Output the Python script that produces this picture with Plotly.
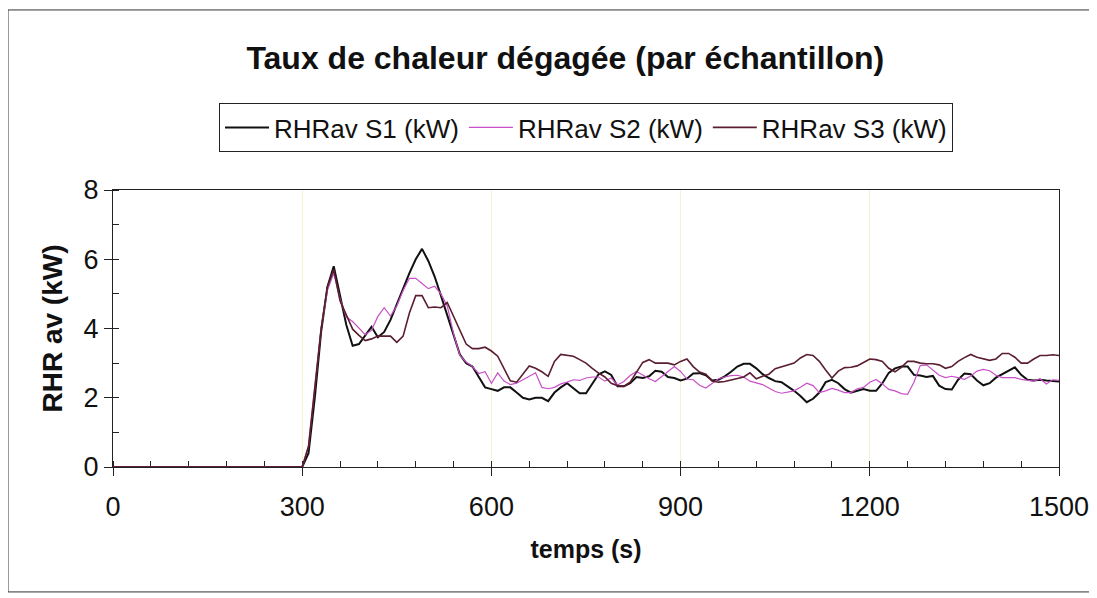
import plotly.graph_objects as go

# temps (s) : 0 puis pas de 10 s de 300 à 1500
temps = [0] + list(range(300, 1501, 10))

rhr_s1 = [0,
    0, 0.4, 2.0, 3.9, 5.2, 5.8, 4.9, 4.1, 3.5, 3.55,
    3.8, 4.05, 3.75, 3.9, 4.25, 4.7, 5.2, 5.6, 6.0, 6.3,
    5.95, 5.5, 4.95, 4.4, 3.8, 3.25, 3.0, 2.9, 2.6, 2.3,
    2.25, 2.2, 2.3, 2.3, 2.15, 2.0, 1.95, 2.0, 2.0, 1.9,
    2.15, 2.3, 2.42, 2.28, 2.13, 2.13, 2.4, 2.68, 2.76, 2.66,
    2.33, 2.33, 2.42, 2.6, 2.57, 2.62, 2.78, 2.75, 2.6, 2.57,
    2.5, 2.55, 2.7, 2.71, 2.65, 2.5, 2.52, 2.62, 2.75, 2.9,
    2.98, 2.98, 2.85, 2.68, 2.57, 2.48, 2.45, 2.33, 2.2, 2.05,
    1.87, 1.97, 2.15, 2.45, 2.52, 2.42, 2.25, 2.15, 2.2, 2.25,
    2.2, 2.2, 2.42, 2.72, 2.85, 2.9, 2.9, 2.66, 2.64, 2.6,
    2.63, 2.35, 2.25, 2.24, 2.52, 2.7, 2.68, 2.5, 2.36, 2.42,
    2.58, 2.68, 2.78, 2.88, 2.66, 2.52, 2.5, 2.52, 2.5, 2.48,
    2.47]

rhr_s2 = [0,
    0, 0.6, 2.3, 4.0, 5.1, 5.6, 4.85, 4.33, 4.2, 4.0,
    3.82, 3.95, 4.35, 4.6, 4.36, 4.65, 5.1, 5.45, 5.45, 5.3,
    5.15, 5.22, 5.0, 4.65, 3.85, 3.22, 3.03, 2.9, 2.7, 2.75,
    2.42, 2.72, 2.48, 2.38, 2.42, 2.52, 2.62, 2.72, 2.3, 2.26,
    2.3, 2.4, 2.45, 2.52, 2.5, 2.57, 2.6, 2.6, 2.48, 2.57,
    2.37, 2.47, 2.64, 2.76, 2.66, 2.55, 2.47, 2.62, 2.76, 2.9,
    2.76, 2.54, 2.52, 2.36, 2.28, 2.42, 2.55, 2.6, 2.64, 2.65,
    2.6, 2.48, 2.42, 2.38, 2.28, 2.18, 2.13, 2.16, 2.2, 2.3,
    2.42, 2.35, 2.15, 2.2, 2.27, 2.22, 2.15, 2.15, 2.26, 2.3,
    2.45, 2.53, 2.4, 2.24, 2.2, 2.12, 2.1, 2.45, 2.93, 2.95,
    2.8, 2.65, 2.58, 2.62, 2.58, 2.53, 2.63, 2.77, 2.82, 2.78,
    2.65, 2.58, 2.58, 2.58, 2.53, 2.5, 2.48, 2.55, 2.4, 2.52,
    2.5]

rhr_s3 = [0,
    0, 0.6, 2.3, 4.0, 5.2, 5.7, 4.8, 4.4, 3.98, 3.8,
    3.65, 3.7, 3.78, 3.78, 3.78, 3.6, 3.78, 4.45, 4.95, 4.95,
    4.6, 4.62, 4.6, 4.75, 4.35, 3.95, 3.55, 3.42, 3.42, 3.46,
    3.35, 3.2, 2.85, 2.49, 2.45, 2.7, 2.92, 2.85, 2.75, 2.62,
    3.05, 3.25, 3.22, 3.2, 3.1, 3.0, 2.85, 2.71, 2.6, 2.42,
    2.35, 2.33, 2.45, 2.75, 3.02, 3.1, 3.0, 3.0, 3.0, 2.95,
    3.05, 3.12, 2.9, 2.74, 2.68, 2.48, 2.45, 2.47, 2.52, 2.57,
    2.6, 2.72, 2.55, 2.62, 2.68, 2.84, 2.9, 2.95, 3.0, 3.15,
    3.25, 3.22, 3.05, 2.8, 2.57, 2.77, 2.87, 2.88, 2.92, 3.02,
    3.12, 3.1, 3.05, 2.85, 2.75, 2.88, 3.05, 3.05, 3.0, 2.98,
    2.98, 2.95, 2.85, 2.9, 3.05, 3.16, 3.25, 3.17, 3.12, 3.08,
    3.12, 3.28, 3.28, 3.17, 3.0, 3.0, 3.12, 3.22, 3.22, 3.24,
    3.22]

x_ticks = [0, 300, 600, 900, 1200, 1500]
y_ticks = [0, 2, 4, 6, 8]

FONT = "Liberation Sans, Arial, sans-serif"

fig = go.Figure()
fig.add_trace(go.Scatter(x=temps, y=rhr_s1, mode="lines", name="RHRav S1 (kW)",
                         line=dict(color="#111111", width=2)))
fig.add_trace(go.Scatter(x=temps, y=rhr_s2, mode="lines", name="RHRav S2 (kW)",
                         line=dict(color="#c850c8", width=1.2)))
fig.add_trace(go.Scatter(x=temps, y=rhr_s3, mode="lines", name="RHRav S3 (kW)",
                         line=dict(color="#5a1e30", width=1.6)))

# la page ajoute 8 px de marge : marges décalées en conséquence
fig.update_layout(
    width=1097, height=598,
    margin=dict(l=105, r=46, t=182, b=139),
    paper_bgcolor="white", plot_bgcolor="white",
    font=dict(family=FONT, color="#111111", size=26),
    title=dict(text="<b>Taux de chaleur dégagée (par échantillon)</b>",
               x=0.508, xref="container", y=0.916, yref="container",
               xanchor="center", yanchor="middle",
               font=dict(size=32, color="#111111")),
    legend=dict(orientation="h", x=0.5, xanchor="center", y=1.314, yanchor="top",
                bordercolor="#222222", borderwidth=1, bgcolor="white",
                font=dict(size=26), itemwidth=44, tracegroupgap=0),
    showlegend=True,
)

fig.update_xaxes(
    range=[0, 1500], tickvals=x_ticks, ticks="outside", ticklen=8,
    tickcolor="#222222", showline=True, linecolor="#222222", linewidth=1,
    mirror=True, showgrid=True, gridcolor="#f6f1cf", gridwidth=1,
    zeroline=False, layer="below traces",
    minor=dict(dtick=60, ticks="inside", ticklen=6, tickcolor="#222222", showgrid=False),
    tickfont=dict(size=27), ticklabelstandoff=8,
    title=dict(text="<b>temps (s)</b>", font=dict(size=25), standoff=19),
)
fig.update_yaxes(
    range=[0, 8], tickvals=y_ticks, ticks="outside", ticklen=8,
    tickcolor="#222222", showline=True, linecolor="#222222", linewidth=1,
    mirror=True, showgrid=False, zeroline=False, layer="below traces",
    minor=dict(dtick=1, ticks="inside", ticklen=6, tickcolor="#222222", showgrid=False),
    tickfont=dict(size=27),
    title=dict(text="<b>RHR av (kW)</b>", font=dict(size=28), standoff=12),
)

# cadre extérieur du graphique
fig.add_shape(type="rect", xref="paper", yref="paper",
              x0=-0.111, x1=1.035, y0=-0.451, y1=1.65,
              line=dict(color="#333333", width=1), layer="below")

fig.write_html("out.html")
